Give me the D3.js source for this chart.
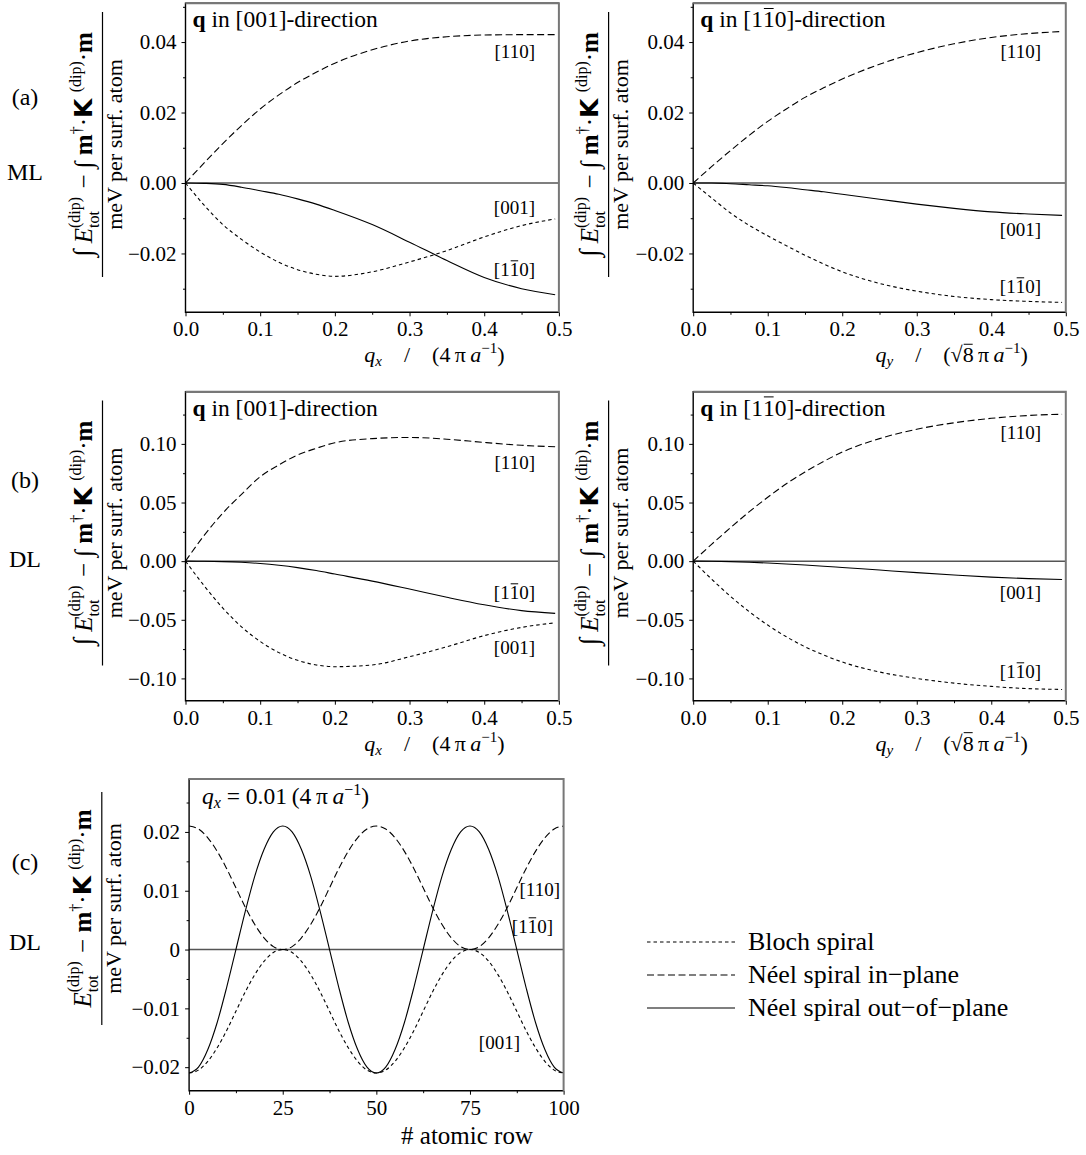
<!DOCTYPE html>
<html>
<head>
<meta charset="utf-8">
<script src="https://cdn.jsdelivr.net/npm/d3@7"></script>
<style>
  body { margin: 0; background: #fff; }
  svg { font-family: "Liberation Serif", "Times New Roman", serif; }
  text { white-space: pre; }
</style>
</head>
<body>
<div id="chart"></div>
<script>
// q grid shared by panels (a) and (b)
const qValues = [0, 0.025, 0.05, 0.075, 0.1, 0.125, 0.15, 0.175, 0.2, 0.25, 0.3, 0.35, 0.4, 0.45, 0.495];

// (a) ML, q in [001]-direction
const mlQxBloch   = [0, -0.0063, -0.0118, -0.0160, -0.0196, -0.0225, -0.0246, -0.0259, -0.0265, -0.0252, -0.0224, -0.0192, -0.0153, -0.0121, -0.0102];
const mlQxNeelIn  = [0, 0.0057, 0.0112, 0.0163, 0.0210, 0.0250, 0.0285, 0.0314, 0.0340, 0.0378, 0.0403, 0.0415, 0.0420, 0.0421, 0.0421];
const mlQxNeelOut = [0, -0.0001, -0.0004, -0.0012, -0.0022, -0.0032, -0.0045, -0.0060, -0.0078, -0.0118, -0.0168, -0.0220, -0.0268, -0.0300, -0.0317];
// (a) ML, q in [1-10]-direction
const mlQyBloch   = [0, -0.0043, -0.0085, -0.0120, -0.0150, -0.0178, -0.0205, -0.0230, -0.0252, -0.0285, -0.0307, -0.0322, -0.0331, -0.0336, -0.0339];
const mlQyNeelIn  = [0, 0.0047, 0.0092, 0.0135, 0.0175, 0.0210, 0.0243, 0.0270, 0.0295, 0.0337, 0.0370, 0.0395, 0.0413, 0.0424, 0.0430];
const mlQyNeelOut = [0, 0, -0.0002, -0.0005, -0.0008, -0.0013, -0.0019, -0.0025, -0.0032, -0.0046, -0.0060, -0.0072, -0.0082, -0.0088, -0.0092];
// (b) DL, q in [001]-direction
const dlQxBloch   = [0, -0.0210, -0.0400, -0.0560, -0.0685, -0.0780, -0.0845, -0.0885, -0.0900, -0.0885, -0.0815, -0.0730, -0.0635, -0.0565, -0.0526];
const dlQxNeelIn  = [0, 0.0220, 0.0410, 0.0570, 0.0720, 0.0820, 0.0905, 0.0962, 0.1010, 0.1045, 0.1055, 0.1040, 0.1012, 0.0988, 0.0975];
const dlQxNeelOut = [0, -0.0001, -0.0004, -0.0010, -0.0020, -0.0035, -0.0055, -0.0080, -0.0110, -0.0170, -0.0238, -0.0308, -0.0372, -0.0422, -0.0445];
// (b) DL, q in [1-10]-direction
const dlQyBloch   = [0, -0.0155, -0.0300, -0.0430, -0.0545, -0.0645, -0.0730, -0.0800, -0.0860, -0.0945, -0.1000, -0.1040, -0.1068, -0.1087, -0.1094];
const dlQyNeelIn  = [0, 0.0145, 0.0285, 0.0420, 0.0545, 0.0660, 0.0760, 0.0850, 0.0930, 0.1045, 0.1125, 0.1180, 0.1218, 0.1242, 0.1253];
const dlQyNeelOut = [0, -0.0001, -0.0004, -0.0009, -0.0016, -0.0024, -0.0033, -0.0043, -0.0054, -0.0076, -0.0098, -0.0118, -0.0136, -0.0149, -0.0156];

// (c) DL, per atomic row at qx = 0.01
const rows = [0, 2.5, 5, 7.5, 10, 12.5, 15, 17.5, 20, 22.5, 25, 27.5, 30, 32.5, 35, 37.5, 40, 42.5, 45, 47.5, 50,
  52.5, 55, 57.5, 60, 62.5, 65, 67.5, 70, 72.5, 75, 77.5, 80, 82.5, 85, 87.5, 90, 92.5, 95, 97.5, 100];
const rowNeelOut = [-0.0210, -0.0200, -0.0170, -0.0124, -0.0065, 0.0000, 0.0065, 0.0124, 0.0170, 0.0200, 0.0210,
  0.0200, 0.0170, 0.0124, 0.0065, 0.0000, -0.0065, -0.0124, -0.0170, -0.0200, -0.0210,
  -0.0200, -0.0170, -0.0124, -0.0065, 0.0000, 0.0065, 0.0124, 0.0170, 0.0200, 0.0210,
  0.0200, 0.0170, 0.0124, 0.0065, 0.0000, -0.0065, -0.0124, -0.0170, -0.0200, -0.0210];
const rowNeelIn = [0.0210, 0.0205, 0.0190, 0.0167, 0.0138, 0.0105, 0.0072, 0.0043, 0.0020, 0.0005, 0.0000,
  0.0005, 0.0020, 0.0043, 0.0072, 0.0105, 0.0138, 0.0167, 0.0190, 0.0205, 0.0210,
  0.0205, 0.0190, 0.0167, 0.0138, 0.0105, 0.0072, 0.0043, 0.0020, 0.0005, 0.0000,
  0.0005, 0.0020, 0.0043, 0.0072, 0.0105, 0.0138, 0.0167, 0.0190, 0.0205, 0.0210];
const rowBloch = [-0.0210, -0.0205, -0.0190, -0.0167, -0.0138, -0.0105, -0.0072, -0.0043, -0.0020, -0.0005, 0.0000,
  -0.0005, -0.0020, -0.0043, -0.0072, -0.0105, -0.0138, -0.0167, -0.0190, -0.0205, -0.0210,
  -0.0205, -0.0190, -0.0167, -0.0138, -0.0105, -0.0072, -0.0043, -0.0020, -0.0005, 0.0000,
  -0.0005, -0.0020, -0.0043, -0.0072, -0.0105, -0.0138, -0.0167, -0.0190, -0.0205, -0.0210];

// ticks
const qTicks = [0, 0.1, 0.2, 0.3, 0.4, 0.5];
const qMinor = [0.05, 0.15, 0.25, 0.35, 0.45];
const mlTicks = [-0.02, 0, 0.02, 0.04];
const mlMinor = [-0.03, -0.01, 0.01, 0.03, 0.05];
const dlTicks = [-0.10, -0.05, 0, 0.05, 0.10];
const dlMinor = [-0.075, -0.025, 0.025, 0.075, 0.125];
const rowTicks = [0, 25, 50, 75, 100];
const rowMinor = [12.5, 37.5, 62.5, 87.5];
const rowValTicks = [-0.02, -0.01, 0, 0.01, 0.02];
const rowValMinor = [-0.015, -0.005, 0.005, 0.015, 0.025];

const legendLabels = ["Bloch spiral", "Néel spiral in\u2212plane", "Néel spiral out\u2212of\u2212plane"];
const dashes = { bloch: "3.5,3", neelIn: "7,3.5", neelOut: null };

const svg = d3.select("#chart").append("svg")
  .attr("width", 1086).attr("height", 1155);

// writes a row of text pieces from x=0 on baseline 0, returns its width
function rich(parent, parts, size) {
  const g = parent.append("g");
  let x = 0;
  parts.forEach(p => {
    const fs = p.s || size;
    if (p.stack) {
      const a = g.append("text").attr("x", x).attr("y", p.up).style("font-size", fs + "px").text(p.stack[0]);
      const b = g.append("text").attr("x", x).attr("y", p.dn).style("font-size", fs + "px").text(p.stack[1]);
      x += Math.max(a.node().getComputedTextLength(), b.node().getComputedTextLength()) + 2;
      return;
    }
    const t = g.append("text").attr("x", x).attr("y", p.dy || 0)
      .attr("xml:space", "preserve")
      .style("font-size", fs + "px")
      .style("font-style", p.i ? "italic" : null)
      .style("font-weight", p.b ? "bold" : null)
      .style("font-family", p.f || null)
      .text(p.t);
    const w = t.node().getComputedTextLength();
    if (p.over) {
      g.append("line").attr("x1", x + 1).attr("x2", x + w - 1)
        .attr("y1", (p.dy || 0) - fs * p.over).attr("y2", (p.dy || 0) - fs * p.over)
        .attr("stroke", "#000").attr("stroke-width", 1);
    }
    x += w;
  });
  return { g, w: x };
}

function dirLabel(parent, xRight, yBase, bar) {
  const parts = bar ? [{ t: "[1" }, { t: "1", over: 0.8 }, { t: "0]" }] : [{ t: bar === false ? "[110]" : "[001]" }];
  const r = rich(parent, parts, 19);
  r.g.attr("transform", `translate(${xRight - r.w},${yBase})`);
}

function yLabel(cx, cy, lineLen, withInt) {
  const numParts = [];
  if (withInt) numParts.push({ t: "\u222B", s: 27 }, { t: " " });
  numParts.push({ t: "E", i: true }, { stack: ["(dip)", "tot"], s: 16, up: -12, dn: 7 });
  numParts.push({ t: withInt ? " \u2212 \u222B " : " \u2212 " });
  numParts.push({ t: "m", b: true }, { t: "\u2020", s: 16, dy: -10 }, { t: "\u00B7" },
    { t: "K", b: true, f: "DejaVu Sans" }, { t: " " }, { t: "(dip)", s: 16, dy: -11 }, { t: "\u00B7" }, { t: "m", b: true });
  const outer = svg.append("g").attr("transform", `translate(${cx},${cy}) rotate(-90)`);
  const num = rich(outer, numParts, 25);
  num.g.attr("transform", `translate(${-num.w / 2},-11)`);
  outer.append("line").attr("x1", -lineLen / 2).attr("x2", lineLen / 2)
    .attr("stroke", "#000").attr("stroke-width", 1.2);
  outer.append("text").attr("y", 19).attr("text-anchor", "middle")
    .style("font-size", "22px").text("meV per surf. atom");
}

function panel(cfg) {
  const x = d3.scaleLinear().domain(cfg.xDomain).range([cfg.left, cfg.right]);
  const y = d3.scaleLinear().domain(cfg.yDomain).range([cfg.bottom, cfg.top]);
  const g = svg.append("g");

  const styleAxis = a => {
    a.select(".domain").remove();
    a.attr("font-family", null).attr("font-size", null).style("font-size", "21px");
    a.selectAll("line").attr("stroke-width", 1);
  };
  g.append("g").attr("transform", `translate(0,${cfg.bottom})`)
    .call(d3.axisBottom(x).tickValues(cfg.xMinor).tickSize(2.5).tickFormat("")).call(styleAxis);
  g.append("g").attr("transform", `translate(0,${cfg.bottom})`)
    .call(d3.axisBottom(x).tickValues(cfg.xTicks).tickSize(4).tickPadding(5).tickFormat(cfg.xFormat)).call(styleAxis);
  g.append("g").attr("transform", `translate(${cfg.left},0)`)
    .call(d3.axisLeft(y).tickValues(cfg.yMinor.filter(v => v <= cfg.yDomain[1])).tickSize(2.5).tickFormat("")).call(styleAxis);
  g.append("g").attr("transform", `translate(${cfg.left},0)`)
    .call(d3.axisLeft(y).tickValues(cfg.yTicks).tickSize(4).tickPadding(5).tickFormat(cfg.yFormat)).call(styleAxis);

  g.append("line").attr("x1", cfg.left).attr("x2", cfg.right).attr("y1", y(0)).attr("y2", y(0))
    .attr("stroke", "#555").attr("stroke-width", 1.5);

  const line = d3.line().x(d => x(d[0])).y(d => y(d[1])).curve(d3.curveMonotoneX);
  cfg.series.forEach(s => {
    g.append("path").datum(d3.zip(cfg.xs, s.values))
      .attr("fill", "none").attr("stroke", "#000").attr("stroke-width", 1.1)
      .attr("stroke-dasharray", dashes[s.kind]).attr("d", line);
  });

  // frame: black axes, grey top/right
  g.append("path").attr("d", `M${cfg.right},${cfg.top}H${cfg.left}V${cfg.bottom}H${cfg.right}`)
    .attr("fill", "none").attr("stroke", "#000").attr("stroke-width", 1.4);
  g.append("path").attr("d", `M${cfg.left},${cfg.top}H${cfg.right}V${cfg.bottom}`)
    .attr("fill", "none").attr("stroke", "#777").attr("stroke-width", 2);

  cfg.labels.forEach(l => dirLabel(g, l.x, l.y, l.bar));
  return g;
}

const f2 = d3.format(".2f"), f1 = d3.format(".1f");
const qFmt = d => f1(d);
const L = { left: 185.5, right: 558.9 }, R = { left: 693.2, right: 1065.8 };
const rowA = { top: 3.3, bottom: 312.3 }, rowB = { top: 391.7, bottom: 700.7 };

function qPanel(side, band, yDomain, yTicks, yMinor, vals, labels, title, xlab) {
  const g = panel({
    ...side, ...band, xDomain: [0, 0.5], yDomain, xs: qValues,
    xTicks: qTicks, xMinor: qMinor, yTicks, yMinor, xFormat: qFmt, yFormat: f2,
    series: [{ kind: "bloch", values: vals[0] }, { kind: "neelIn", values: vals[1] }, { kind: "neelOut", values: vals[2] }],
    labels
  });
  const t = rich(g, title, 23.5);
  t.g.attr("transform", `translate(${side.left + 7},${band.top + 24})`);
  const xl = rich(g, xlab, 22);
  xl.g.attr("transform", `translate(${side.labelX - xl.w / 2},${band.bottom + 50})`);
}

const titleQx = [{ t: "q", b: true }, { t: " in [001]-direction" }];
const titleQy = [{ t: "q", b: true }, { t: " in [1" }, { t: "1", over: 0.8 }, { t: "0]-direction" }];
const xlabQx = [{ t: "q", i: true }, { t: "x", i: true, s: 15, dy: 4 }, { t: "\u2003/\u2003(4\u2009\u03C0\u2009" }, { t: "a", i: true },
  { t: "\u22121", s: 15, dy: -9 }, { t: ")" }];
const xlabQy = [{ t: "q", i: true }, { t: "y", i: true, s: 15, dy: 4 }, { t: "\u2003/\u2003(\u221A" }, { t: "8", over: 0.82 },
  { t: "\u2009\u03C0\u2009" }, { t: "a", i: true }, { t: "\u22121", s: 15, dy: -9 }, { t: ")" }];

L.labelX = 434.5; R.labelX = 951.7;

qPanel(L, rowA, [-0.0367, 0.051], mlTicks, mlMinor, [mlQxBloch, mlQxNeelIn, mlQxNeelOut],
  [{ x: 535, y: 58, bar: false }, { x: 535, y: 214 }, { x: 535, y: 276, bar: true }], titleQx, xlabQx);
qPanel(R, rowA, [-0.0367, 0.051], mlTicks, mlMinor, [mlQyBloch, mlQyNeelIn, mlQyNeelOut],
  [{ x: 1041, y: 58, bar: false }, { x: 1041, y: 236 }, { x: 1041, y: 293, bar: true }], titleQy, xlabQy);
qPanel(L, rowB, [-0.119, 0.1445], dlTicks, dlMinor, [dlQxBloch, dlQxNeelIn, dlQxNeelOut],
  [{ x: 535, y: 469, bar: false }, { x: 535, y: 599, bar: true }, { x: 535, y: 654 }], titleQx, xlabQx);
qPanel(R, rowB, [-0.119, 0.1445], dlTicks, dlMinor, [dlQyBloch, dlQyNeelIn, dlQyNeelOut],
  [{ x: 1041, y: 439, bar: false }, { x: 1041, y: 599 }, { x: 1041, y: 678, bar: true }], titleQy, xlabQy);

// (c)
const gc = panel({
  left: 189.1, right: 563.6, top: 779, bottom: 1090.7, xDomain: [0, 100], yDomain: [-0.024, 0.029], xs: rows,
  xTicks: rowTicks, xMinor: rowMinor, yTicks: rowValTicks, yMinor: rowValMinor,
  xFormat: d3.format("d"), yFormat: d => d === 0 ? "0" : f2(d),
  series: [{ kind: "bloch", values: rowBloch }, { kind: "neelIn", values: rowNeelIn }, { kind: "neelOut", values: rowNeelOut }],
  labels: [{ x: 560, y: 896, bar: false }, { x: 553, y: 933, bar: true }, { x: 520, y: 1049 }]
});
const ct = rich(gc, [{ t: "q", i: true }, { t: "x", i: true, s: 16, dy: 4 }, { t: " = 0.01\u2009(4\u2009\u03C0\u2009" }, { t: "a", i: true },
  { t: "\u22121", s: 16, dy: -9 }, { t: ")" }], 23.5);
ct.g.attr("transform", `translate(202,804)`);
gc.append("text").attr("x", 467).attr("y", 1144).attr("text-anchor", "middle").style("font-size", "25px").text("# atomic row");

// y labels
yLabel(102.5, 144.5, 265, true);
yLabel(608.6, 144.5, 265, true);
yLabel(102.5, 533, 265, true);
yLabel(608.6, 533, 265, true);
yLabel(101.8, 908.5, 233, false);

// panel letters
[["(a)", 105], ["ML", 180], ["(b)", 488], ["DL", 567], ["(c)", 870], ["DL", 950]].forEach(([t, yy]) => {
  svg.append("text").attr("x", 25).attr("y", yy).attr("text-anchor", "middle").style("font-size", "24px").text(t);
});

// legend
const lg = svg.append("g");
const legendKinds = ["bloch", "neelIn", "neelOut"];
const legendY = d3.scalePoint().domain(legendLabels).range([942, 1008]);
legendLabels.forEach((lab, i) => {
  lg.append("line").attr("x1", 647).attr("x2", 735).attr("y1", legendY(lab)).attr("y2", legendY(lab))
    .attr("stroke", "#000").attr("stroke-width", 1.1).attr("stroke-dasharray", dashes[legendKinds[i]]);
  lg.append("text").attr("x", 748).attr("y", legendY(lab) + 8).style("font-size", "26px").text(lab);
});
</script>
</body>
</html>
